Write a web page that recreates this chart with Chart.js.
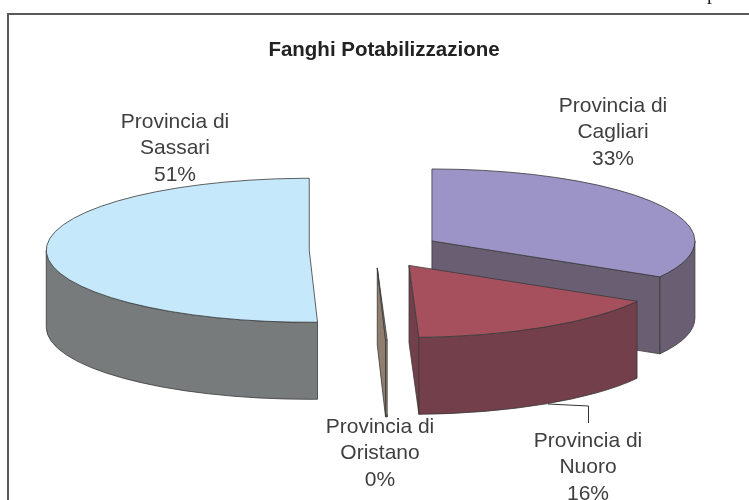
<!DOCTYPE html>
<html>
<head>
<meta charset="utf-8">
<style>html,body{margin:0;padding:0;background:#fff;overflow:hidden}canvas{display:block}</style>
<script src="https://cdn.jsdelivr.net/npm/chart.js@4/dist/chart.umd.min.js"></script>
</head>
<body>
<canvas id="c" width="749" height="500" style="width:749px;height:500px"></canvas>
<script>
const chartTitle = 'Fanghi Potabilizzazione';
const categories = ['Provincia di Cagliari', 'Provincia di Nuoro', 'Provincia di Oristano', 'Provincia di Sassari'];
const values = [33.3, 16.1, 0.1, 50.5];
const topColors = ['#9C94C7', '#A6505E', '#8F7E6E', '#C5E8FA'];
const sideColors = ['#6A5E72', '#723F4A', '#8F7E6E', '#787B7C'];
const labelX = [613, 588, 380, 175];
const labelY = [106, 441, 427, 122];

const PIE = {cx: 375, cy: 250, rx: 263, ry: 72, depth: 77, explode: 0.25};
const EDGE = '#3a3a3a';

const pie3d = {
  id: 'pie3d',
  beforeDatasetsDraw(chart) {
    const ctx = chart.ctx;
    const arcs = chart.getDatasetMeta(0).data;
    // back to front
    [3, 0, 2, 1].forEach(i => drawSlice(ctx, arcs[i], i));
    return false;
  },
  afterDraw(chart) {
    const ctx = chart.ctx;
    ctx.save();
    // frame, open at the right and bottom where the page cuts it
    ctx.strokeStyle = '#5a5a5a';
    ctx.lineWidth = 2;
    ctx.beginPath();
    ctx.moveTo(8, 500); ctx.lineTo(8, 14); ctx.lineTo(749, 14);
    ctx.stroke();
    // foot of a letter from the text above the chart
    ctx.fillStyle = '#222';
    ctx.font = '20px "Liberation Serif"';
    ctx.textAlign = 'left';
    ctx.textBaseline = 'alphabetic';
    ctx.fillText('p', 707, -1);
    // leader lines
    ctx.strokeStyle = '#333';
    ctx.lineWidth = 1;
    ctx.beginPath();
    ctx.moveTo(548, 404); ctx.lineTo(588.5, 406); ctx.lineTo(588.5, 423);
    ctx.moveTo(387, 414); ctx.lineTo(387, 417);
    ctx.stroke();
    // labels
    ctx.fillStyle = '#3f3f3f';
    ctx.font = '21px "Liberation Sans"';
    ctx.textAlign = 'center';
    ctx.textBaseline = 'middle';
    categories.forEach((name, i) => {
      const lines = [name.slice(0, 12), name.slice(13), Math.round(values[i]) + '%'];
      lines.forEach((t, k) => ctx.fillText(t, labelX[i], labelY[i] + k * 26.5));
    });
    ctx.restore();
  }
};

function drawSlice(ctx, arc, i) {
  const a0 = arc.startAngle, a1 = arc.endAngle, mid = (a0 + a1) / 2;
  const cx = PIE.cx + PIE.explode * PIE.rx * Math.cos(mid);
  const cy = PIE.cy + PIE.explode * PIE.ry * Math.sin(mid);
  const P = a => [cx + PIE.rx * Math.cos(a), cy + PIE.ry * Math.sin(a)];
  const d = PIE.depth;
  ctx.save();
  ctx.lineWidth = 0.8;
  ctx.strokeStyle = EDGE;
  ctx.lineJoin = 'round';

  // radial wall at the end of the slice, if it faces the viewer
  if (Math.cos(a1) > 0.001) {
    const e = P(a1);
    ctx.beginPath();
    ctx.moveTo(cx, cy); ctx.lineTo(e[0], e[1]); ctx.lineTo(e[0], e[1] + d); ctx.lineTo(cx, cy + d);
    ctx.closePath();
    ctx.fillStyle = sideColors[i];
    ctx.fill(); ctx.stroke();
  }

  // outer rim, the part on the front half of the ellipse
  const r0 = Math.max(a0, 0), r1 = Math.min(a1, Math.PI);
  if (r1 > r0) {
    ctx.beginPath();
    ctx.ellipse(cx, cy, PIE.rx, PIE.ry, 0, r0, r1, false);
    ctx.ellipse(cx, cy + d, PIE.rx, PIE.ry, 0, r1, r0, true);
    ctx.closePath();
    ctx.fillStyle = sideColors[i];
    ctx.fill(); ctx.stroke();
  }

  // top face, drawn by the library's arc element under a squashing transform
  const sx = PIE.rx / arc.outerRadius, sy = PIE.ry / arc.outerRadius;
  ctx.save();
  ctx.translate(cx - arc.x * sx, cy - arc.y * sy);
  ctx.scale(sx, sy);
  arc.draw(ctx);
  ctx.restore();

  ctx.beginPath();
  ctx.moveTo(cx, cy);
  ctx.ellipse(cx, cy, PIE.rx, PIE.ry, 0, a0, a1, false);
  ctx.closePath();
  ctx.stroke();
  ctx.restore();
}

new Chart(document.getElementById('c'), {
  type: 'pie',
  data: {
    labels: categories,
    datasets: [{data: values, backgroundColor: topColors, borderWidth: 0}]
  },
  options: {
    responsive: false,
    animation: false,
    rotation: 0,
    layout: {padding: {left: 19, top: 0, right: 0, bottom: 0}},
    plugins: {
      legend: {display: false},
      tooltip: {enabled: false},
      title: {
        display: true,
        text: chartTitle,
        color: '#222',
        font: {family: '"Liberation Sans"', size: 20.5, weight: 'bold'},
        padding: {top: 38, bottom: 10}
      }
    }
  },
  plugins: [pie3d]
});
</script>
</body>
</html>
